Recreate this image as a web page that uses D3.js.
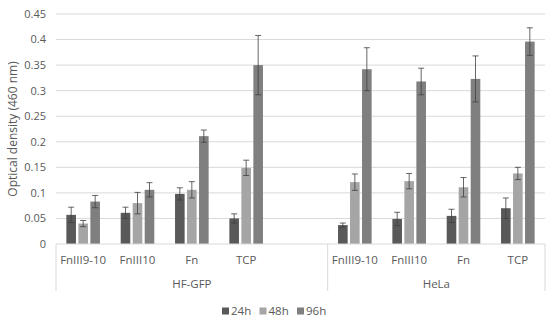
<!DOCTYPE html>
<html>
<head>
<meta charset="utf-8">
<script src="https://cdnjs.cloudflare.com/ajax/libs/d3/7.8.5/d3.min.js"></script>
<style>
  body { margin: 0; background: #fff; }
  text { font-family: "Open Sans", sans-serif; fill: #595959; }
</style>
</head>
<body>
<div id="chart"></div>
<script>
// groups and their categories (HF-GFP has one empty slot at the end)
var groups = ["HF-GFP", "HeLa"];
var groupCats = [["FnIII9-10", "FnIII10", "Fn", "TCP", ""], ["FnIII9-10", "FnIII10", "Fn", "TCP"]];
var seriesNames = ["24h", "48h", "96h"];
var colors = ["#595959", "#a5a5a5", "#7f7f7f"];

// values per series, one per category slot (null = empty slot)
var v24 = [0.057, 0.061, 0.098, 0.050, null, 0.037, 0.049, 0.055, 0.070];
var v48 = [0.040, 0.080, 0.106, 0.149, null, 0.121, 0.123, 0.111, 0.138];
var v96 = [0.083, 0.106, 0.211, 0.350, null, 0.342, 0.318, 0.323, 0.396];
var e24 = [0.015, 0.011, 0.012, 0.009, null, 0.004, 0.013, 0.013, 0.020];
var e48 = [0.006, 0.021, 0.016, 0.015, null, 0.016, 0.015, 0.019, 0.012];
var e96 = [0.012, 0.014, 0.012, 0.058, null, 0.042, 0.026, 0.045, 0.027];
var yTicks = [0, 0.05, 0.1, 0.15, 0.2, 0.25, 0.3, 0.35, 0.4, 0.45];

var values = [v24, v48, v96];
var errors = [e24, e48, e96];

var width = 550, height = 322;
var margin = {top: 14, right: 5, bottom: 78, left: 56};
var innerW = width - margin.left - margin.right;
var innerH = height - margin.top - margin.bottom;

var svg = d3.select("#chart").append("svg")
  .attr("width", width)
  .attr("height", height);
var g = svg.append("g").attr("transform", "translate(" + margin.left + "," + margin.top + ")");

// flat list of slots
var slots = [];
groupCats.forEach(function(cats, gi) {
  cats.forEach(function(c, ci) { slots.push({group: gi, cat: c, id: gi + "-" + ci}); });
});

var x = d3.scaleBand().domain(slots.map(function(d) { return d.id; })).range([0, innerW]);
var xs = d3.scaleBand().domain(seriesNames).range([x.bandwidth() / 2 - 16.8, x.bandwidth() / 2 + 16.8]).paddingInner(0.2);
var y = d3.scaleLinear().domain([0, 0.45]).range([innerH, 0]);

// grid
g.selectAll(".grid").data(yTicks.slice(1)).enter().append("line")
  .attr("x1", 0).attr("x2", innerW)
  .attr("y1", function(d) { return y(d); }).attr("y2", function(d) { return y(d); })
  .attr("stroke", "#d9d9d9").attr("stroke-width", 1);

// y labels
g.selectAll(".ylab").data(yTicks).enter().append("text")
  .attr("x", -10).attr("y", function(d) { return y(d); })
  .attr("dy", "0.35em")
  .attr("text-anchor", "end")
  .style("font-size", "11px")
  .text(function(d) { return d3.format("")(+d.toFixed(2)); });

// bars
var bars = [];
slots.forEach(function(s, i) {
  seriesNames.forEach(function(sn, si) {
    if (values[si][i] != null) bars.push({slot: s.id, series: si, v: values[si][i], e: errors[si][i]});
  });
});

var bx = function(d) { return x(d.slot) + xs(seriesNames[d.series]); };

g.selectAll(".bar").data(bars).enter().append("rect")
  .attr("x", bx)
  .attr("y", function(d) { return y(d.v); })
  .attr("width", xs.bandwidth())
  .attr("height", function(d) { return innerH - y(d.v); })
  .attr("fill", function(d) { return colors[d.series]; });

// error bars
var eb = g.selectAll(".err").data(bars).enter().append("g")
  .attr("stroke", "#404040").attr("stroke-width", 0.8);
eb.append("line")
  .attr("x1", function(d) { return bx(d) + xs.bandwidth() / 2; })
  .attr("x2", function(d) { return bx(d) + xs.bandwidth() / 2; })
  .attr("y1", function(d) { return y(d.v - d.e); })
  .attr("y2", function(d) { return y(d.v + d.e); });
eb.append("line")
  .attr("x1", function(d) { return bx(d) + xs.bandwidth() / 2 - 3; })
  .attr("x2", function(d) { return bx(d) + xs.bandwidth() / 2 + 3; })
  .attr("y1", function(d) { return y(d.v + d.e); })
  .attr("y2", function(d) { return y(d.v + d.e); });
eb.append("line")
  .attr("x1", function(d) { return bx(d) + xs.bandwidth() / 2 - 3; })
  .attr("x2", function(d) { return bx(d) + xs.bandwidth() / 2 + 3; })
  .attr("y1", function(d) { return y(d.v - d.e); })
  .attr("y2", function(d) { return y(d.v - d.e); });

// x axis line
g.append("line").attr("x1", 0).attr("x2", innerW).attr("y1", innerH).attr("y2", innerH)
  .attr("stroke", "#d9d9d9");

// category labels
g.selectAll(".xlab").data(slots).enter().append("text")
  .attr("x", function(d) { return x(d.id) + x.bandwidth() / 2; })
  .attr("y", innerH + 16)
  .attr("dy", "0.35em")
  .attr("text-anchor", "middle")
  .style("font-size", "11.5px")
  .text(function(d) { return d.cat; });

// group separators and labels
var bounds = [0];
var count = 0;
groupCats.forEach(function(cats) { count += cats.length; bounds.push(count); });
g.selectAll(".sep").data(bounds).enter().append("line")
  .attr("x1", function(d) { return d * x.step(); })
  .attr("x2", function(d) { return d * x.step(); })
  .attr("y1", innerH).attr("y2", innerH + 47)
  .attr("stroke", "#d9d9d9");
g.selectAll(".glab").data(groups).enter().append("text")
  .attr("x", function(d, i) { return (bounds[i] + bounds[i + 1]) / 2 * x.step(); })
  .attr("y", innerH + 40)
  .attr("dy", "0.35em")
  .attr("text-anchor", "middle")
  .style("font-size", "11.5px")
  .text(function(d) { return d; });

// y title
svg.append("text")
  .attr("transform", "translate(13," + (margin.top + innerH / 2) + ") rotate(-90)")
  .attr("dy", "0.35em")
  .attr("text-anchor", "middle")
  .style("font-size", "12px")
  .text("Optical density (460 nm)");

// legend
var legend = svg.append("g").selectAll("g").data(seriesNames).enter().append("g")
  .attr("transform", function(d, i) { return "translate(" + (222 + i * 37.5) + ",311)"; });
legend.append("rect")
  .attr("x", 0).attr("y", -3.5).attr("width", 7).attr("height", 7)
  .attr("fill", function(d, i) { return colors[i]; });
legend.append("text")
  .attr("x", 9).attr("y", 0).attr("dy", "0.35em")
  .style("font-size", "11.5px")
  .text(function(d) { return d; });
</script>
</body>
</html>
